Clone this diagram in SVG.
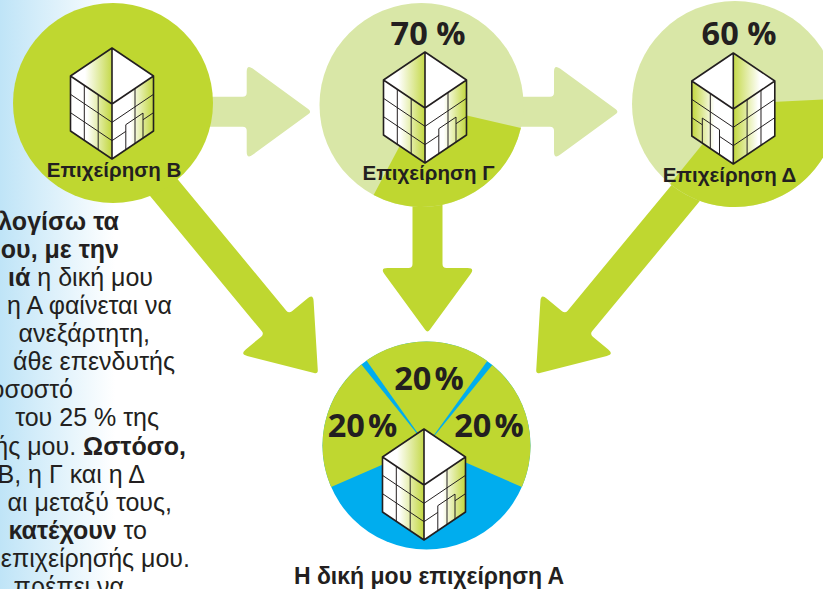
<svg xmlns="http://www.w3.org/2000/svg" xmlns:xlink="http://www.w3.org/1999/xlink" width="823" height="589" viewBox="0 0 823 589">
<defs>
<style>
.lime{fill:#bfd730}
.pale{fill:#d9e7a7}
.blue{fill:#00adee}
.lbl{font-family:"Liberation Sans",Arial,sans-serif;font-weight:bold;font-size:20.5px;fill:#231f20;text-anchor:middle}
.big{font-size:23px}
.pct{font-family:"Open Sans","Liberation Sans",sans-serif;font-weight:700;font-size:32.5px;fill:#231f20;text-anchor:middle}
.body{font-family:"Liberation Sans",Arial,sans-serif;font-size:25px;fill:#231f20;text-anchor:end}
.b{font-weight:bold}
.edge{fill:none;stroke:#231f20;stroke-width:1.6;stroke-linejoin:round}
.grid{fill:none;stroke:#231f20;stroke-width:1}
</style>
<linearGradient id="bgL" x1="0" y1="0" x2="1" y2="0">
<stop offset="0" stop-color="#bfe4f7"/>
<stop offset="1" stop-color="#ffffff"/>
</linearGradient>
<linearGradient id="gTop" gradientUnits="userSpaceOnUse" x1="-41.5" y1="0" x2="0" y2="0">
<stop offset="0" stop-color="#ffffff"/>
<stop offset="0.35" stop-color="#ffffff"/>
<stop offset="1" stop-color="#c5d94a"/>
</linearGradient>
<linearGradient id="gLeft" gradientUnits="userSpaceOnUse" x1="-41.5" y1="0" x2="0" y2="0">
<stop offset="0" stop-color="#ffffff"/>
<stop offset="0.4" stop-color="#ffffff"/>
<stop offset="1" stop-color="#c2d73e"/>
</linearGradient>
<linearGradient id="gRight" gradientUnits="userSpaceOnUse" x1="0" y1="0" x2="41.5" y2="0">
<stop offset="0" stop-color="#ffffff"/>
<stop offset="0.45" stop-color="#ffffff"/>
<stop offset="1" stop-color="#c2d73e"/>
</linearGradient>
<g id="bldg">
<path d="M0,-56 L-41.5,-28 L0,0 Z" fill="url(#gTop)"/>
<path d="M0,-56 L41.5,-28 L0,0 Z" fill="#ffffff"/>
<path d="M-41.5,-28 L0,0 L0,55 L-41.5,27 Z" fill="url(#gLeft)"/>
<path d="M0,0 L41.5,-28 L41.5,27 L0,55 Z" fill="url(#gRight)"/>
<path class="grid" d="M-27.7,-18.69 V36.31 M-13.8,-9.31 V45.69 M-41.5,-9.67 L0,18.33 M-41.5,8.67 L0,36.67 M0,18.33 L41.5,-9.67 M0,36.67 L13.8,27.36 M31,15.75 L41.5,8.67 M13.8,45.69 V20.69 L31,9.08 V34.08 M23,-15.52 V39.48"/>
<path class="edge" d="M0,-56 L41.5,-28 L41.5,27 L0,55 L-41.5,27 L-41.5,-28 Z M-41.5,-28 L0,0 L41.5,-28 M0,0 V55 M0,-56 V0"/>
</g>
</defs>
<rect width="823" height="589" fill="#ffffff"/>
<rect x="0" y="0" width="115" height="589" fill="url(#bgL)"/>
<g id="body-text" class="body">
<text x="119" y="230"><tspan class="b">ολογίσω τα</tspan></text>
<text x="119" y="258.1"><tspan class="b">ου, με την</tspan></text>
<text x="153" y="286.1"><tspan class="b">ιά</tspan> η δική μου</text>
<text x="172" y="314.2">η Α φαίνεται να</text>
<text x="150" y="342.2">ανεξάρτητη,</text>
<text x="175" y="370.3">άθε επενδυτής</text>
<text x="73" y="398.4">οσοστό</text>
<text x="159" y="426.4">του 25 % της</text>
<text x="186" y="454.5">ής μου. <tspan class="b">Ωστόσο,</tspan></text>
<text x="145" y="482.5">Β, η Γ και η Δ</text>
<text x="172" y="510.6">αι μεταξύ τους,</text>
<text x="147" y="538.7"><tspan class="b">κατέχουν</tspan> το</text>
<text x="190" y="566.7">επιχείρησής μου.</text>
<text x="124" y="594.8">πρέπει να</text>
</g>
<g id="connectors">
<path class="pale" transform="translate(311.7,111.7)" d="M-140,-15 L-69,-15 Q-65,-15 -65,-19 L-65,-40 Q-65,-47.5 -59,-43.1 L-3.2,-2.35 Q0,0 -3.2,2.35 L-59,43.1 Q-65,47.5 -65,40 L-65,19 Q-65,15 -69,15 L-140,15 Z"/>
<path class="pale" transform="translate(619,111.7)" d="M-120,-15 L-69,-15 Q-65,-15 -65,-19 L-65,-40 Q-65,-47.5 -59,-43.1 L-3.2,-2.35 Q0,0 -3.2,2.35 L-59,43.1 Q-65,47.5 -65,40 L-65,19 Q-65,15 -69,15 L-120,15 Z"/>
<path class="lime" transform="translate(427.5,333) rotate(90)" d="M-185,-15 L-69,-15 Q-65,-15 -65,-19 L-65,-40 Q-65,-47.5 -59,-43.1 L-3.2,-2.35 Q0,0 -3.2,2.35 L-59,43.1 Q-65,47.5 -65,40 L-65,19 Q-65,15 -69,15 L-185,15 Z"/>
<path class="lime" transform="translate(318,374) rotate(50.4)" d="M-260,-16 L-69,-16 Q-65,-16 -65,-20 L-65,-40 Q-65,-47.5 -59,-43.1 L-3.2,-2.35 Q0,0 -3.2,2.35 L-59,43.1 Q-65,47.5 -65,40 L-65,20 Q-65,16 -69,16 L-260,16 Z"/>
<path class="lime" transform="translate(536,374) rotate(129.6)" d="M-260,-16 L-69,-16 Q-65,-16 -65,-20 L-65,-40 Q-65,-47.5 -59,-43.1 L-3.2,-2.35 Q0,0 -3.2,2.35 L-59,43.1 Q-65,47.5 -65,40 L-65,20 Q-65,16 -69,16 L-260,16 Z"/>
</g>
<g id="node-B">
<circle class="lime" cx="113" cy="103" r="100"/>
<use xlink:href="#bldg" href="#bldg" transform="translate(112,104)"/>
<text class="lbl" x="114" y="177">Επιχείρηση Β</text>
</g>
<g id="node-G">
<circle class="pale" cx="421.5" cy="105" r="102"/>
<path class="lime" d="M421.5,105 L520.89,127.95 A102,102 0 0 1 373.61,195.06 Z"/>
<use xlink:href="#bldg" href="#bldg" transform="translate(425,108)"/>
<text class="pct" x="428" y="45">70 %</text>
<text class="lbl" x="428.5" y="180">Επιχείρηση Γ</text>
</g>
<g id="node-D">
<circle class="pale" cx="735" cy="104" r="103"/>
<path class="lime" d="M735,104 L837.86,98.61 A103,103 0 0 1 670.18,184.05 Z"/>
<use xlink:href="#bldg" href="#bldg" transform="translate(733.3,109) scale(-1,1)"/>
<text class="pct" x="739" y="45">60 %</text>
<text class="lbl" x="729.5" y="182">Επιχείρηση Δ</text>
</g>
<g id="node-A">
<circle class="blue" cx="426.5" cy="445.5" r="104"/>
<path class="lime" d="M426.5,445.5 L331.13,486.97 A104,104 0 0 1 361.40,364.39 Z"/>
<path class="lime" d="M426.5,445.5 L366.48,360.57 A104,104 0 0 1 487.26,361.10 Z"/>
<path class="lime" d="M426.5,445.5 L492.30,364.96 A104,104 0 0 1 521.87,486.97 Z"/>
<use xlink:href="#bldg" href="#bldg" transform="translate(424,485)"/>
<text class="pct" x="429" y="390">20<tspan dx="3">%</tspan></text>
<text class="pct" x="362.5" y="436.7">20<tspan dx="3">%</tspan></text>
<text class="pct" x="489" y="436.7">20<tspan dx="3">%</tspan></text>
<text class="lbl big" x="429" y="584">Η δική μου επιχείρηση Α</text>
</g>
</svg>
